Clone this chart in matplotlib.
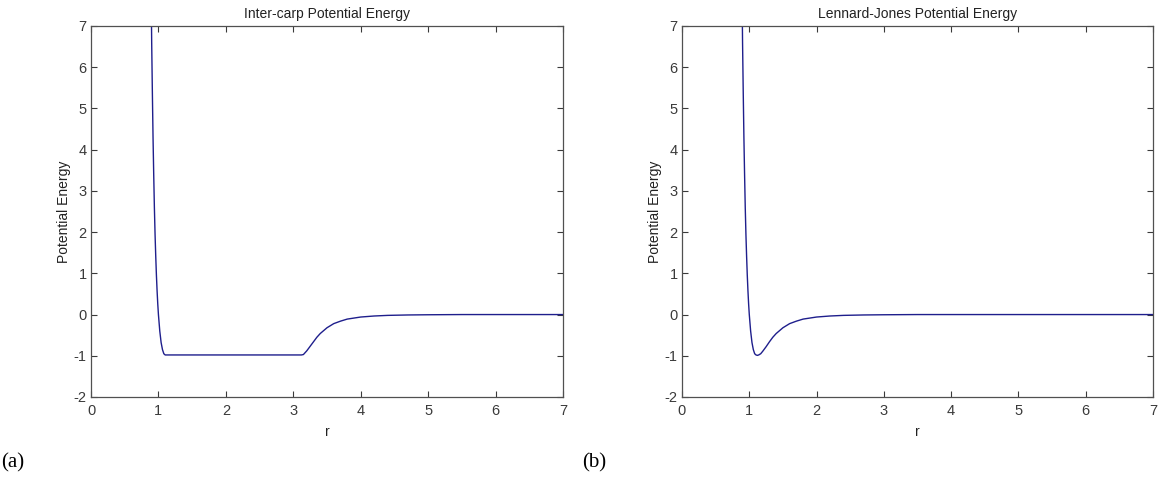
import matplotlib
matplotlib.use("Agg")
import matplotlib.pyplot as plt
from matplotlib import font_manager

plt.rcParams["axes.unicode_minus"] = False

# ---- data ----
r_carp = [0.895, 0.90, 0.91, 0.92, 0.93, 0.94, 0.95, 0.96, 0.97, 0.98, 0.99, 1.00,
          1.02, 1.04, 1.06, 1.08, 1.10, 1.12, 3.12, 3.15, 3.20, 3.25, 3.30, 3.35,
          3.40, 3.50, 3.60, 3.70, 3.80, 3.90, 4.00, 4.20, 4.40, 4.70, 5.00, 5.50, 7.00]
u_carp = [7.4, 6.6, 5.4, 4.3, 3.4, 2.6, 1.95, 1.42, 0.96, 0.58, 0.26, 0.0,
          -0.40, -0.68, -0.85, -0.95, -0.98, -0.98, -0.98, -0.97, -0.88, -0.77, -0.66, -0.55,
          -0.46, -0.32, -0.22, -0.16, -0.11, -0.085, -0.06, -0.035, -0.02, -0.01, -0.005, 0.0, 0.0]

r_lj = [0.895, 0.90, 0.91, 0.92, 0.93, 0.94, 0.95, 0.96, 0.97, 0.98, 0.99, 1.00,
        1.02, 1.04, 1.06, 1.08, 1.10, 1.12, 1.14, 1.17, 1.20, 1.25, 1.30, 1.35,
        1.40, 1.50, 1.60, 1.70, 1.80, 1.90, 2.00, 2.20, 2.40, 2.70, 3.00, 3.50, 7.00]
u_lj = [7.4, 6.6, 5.4, 4.3, 3.4, 2.6, 1.95, 1.42, 0.96, 0.58, 0.26, 0.0,
        -0.40, -0.68, -0.85, -0.95, -0.98, -0.99, -0.98, -0.95, -0.89, -0.78, -0.66, -0.55,
        -0.46, -0.32, -0.22, -0.16, -0.11, -0.085, -0.06, -0.035, -0.02, -0.01, -0.005, 0.0, 0.0]

x_ticks = [0, 1, 2, 3, 4, 5, 6, 7]
y_ticks = [-2, -1, 0, 1, 2, 3, 4, 5, 6, 7]
titles = ["Inter-carp Potential Energy", "Lennard-Jones Potential Energy"]
panel_labels = ["(a)", "(b)"]

installed = {f.name for f in font_manager.fontManager.ttflist}
sans = "Liberation Sans Narrow" if "Liberation Sans Narrow" in installed else "Liberation Sans"

W, H = 1159, 482
fig = plt.figure(figsize=(W / 100, H / 100), dpi=100)
fig.patch.set_facecolor("white")

axes_rects = [[91 / W, (H - 397) / H, 472 / W, 371 / H],
              [682 / W, (H - 397) / H, 471 / W, 371 / H]]
series = [(r_carp, u_carp), (r_lj, u_lj)]
label_x = [1 / W, 582 / W]

gray = "#3a3a3a"
for i in range(2):
    ax = fig.add_axes(axes_rects[i])
    ax.plot(series[i][0], series[i][1], color="#1e1e8c", lw=1.0)
    ax.set_xlim(0, 7)
    ax.set_ylim(-2, 7)
    ax.set_xticks(x_ticks)
    ax.set_yticks(y_ticks)
    ax.tick_params(direction="in", top=True, right=True, length=4, width=0.8,
                   colors=gray, labelsize=10.5)
    ax.tick_params(axis="x", pad=5)
    ax.tick_params(axis="y", pad=3)
    for lab in ax.get_xticklabels() + ax.get_yticklabels():
        lab.set_family(sans)
        lab.set_color(gray)
    for s in ax.spines.values():
        s.set_color("#505050")
        s.set_linewidth(0.9)
    ax.set_title(titles[i], fontsize=10, family=sans, color="#222222", pad=6)
    ax.set_xlabel("r", fontsize=10, family=sans, color="#222222", labelpad=5)
    ax.set_ylabel("Potential Energy", fontsize=10, family=sans, color="#222222", labelpad=2)
    fig.text(label_x[i], (H - 463) / H, panel_labels[i], fontsize=15,
             family="Liberation Serif", va="center", ha="left", color="black")

fig.savefig("out.png", dpi=100, facecolor="white")
